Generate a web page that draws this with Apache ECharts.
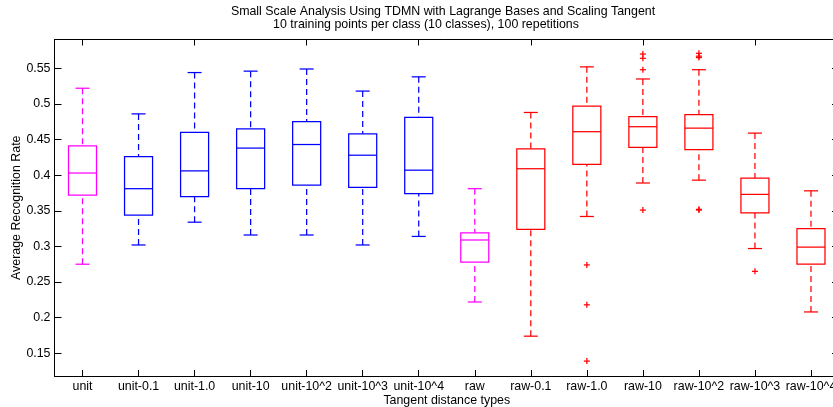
<!DOCTYPE html>
<html><head><meta charset="utf-8">
<script src="https://cdn.jsdelivr.net/npm/echarts@6/dist/echarts.min.js"></script>
<style>html,body{margin:0;padding:0;background:#fff}#c{width:833px;height:407px}</style>
</head><body><div id="c"></div>
<script>
const categories = ['unit','unit-0.1','unit-1.0','unit-10','unit-10^2','unit-10^3','unit-10^4','raw','raw-0.1','raw-1.0','raw-10','raw-10^2','raw-10^3','raw-10^4'];
const lowerWhisker = [0.275,0.302,0.334,0.316,0.316,0.302,0.314,0.222,0.174,0.342,0.389,0.393,0.297,0.208];
const q1 =           [0.372,0.344,0.370,0.381,0.386,0.383,0.374,0.278,0.324,0.415,0.439,0.436,0.347,0.275];
const median =       [0.403,0.381,0.406,0.438,0.443,0.428,0.407,0.309,0.409,0.461,0.468,0.466,0.373,0.299];
const q3 =           [0.441,0.426,0.460,0.465,0.475,0.458,0.481,0.319,0.437,0.497,0.482,0.485,0.396,0.325];
const upperWhisker = [0.522,0.486,0.544,0.546,0.549,0.518,0.538,0.381,0.488,0.552,0.535,0.548,0.459,0.378];
const outlierCategory = ['raw-1.0','raw-1.0','raw-1.0','raw-10','raw-10','raw-10','raw-10','raw-10^2','raw-10^2','raw-10^2','raw-10^2','raw-10^2','raw-10^3'];
const outlierValue =    [0.274,0.218,0.139,0.351,0.548,0.564,0.570,0.351,0.352,0.565,0.567,0.571,0.265];
const yTicks = [0.15,0.2,0.25,0.3,0.35,0.4,0.45,0.5,0.55];
const titleLines = ['Small Scale Analysis Using TDMN with Lagrange Bases and Scaling Tangent','10 training points per class (10 classes), 100 repetitions'];
const yName = 'Average Recognition Rate';
const xName = 'Tangent distance types';

function colorOf(i){
  const n = categories[i];
  if (n === 'unit' || n === 'raw') return '#ff00ff';
  if (n.indexOf('unit') === 0) return '#0000ff';
  return '#ff0000';
}

const boxData = categories.map((c,i)=>[i, lowerWhisker[i], q1[i], median[i], q3[i], upperWhisker[i]]);
const outData = outlierCategory.map((c,k)=>[categories.indexOf(c), outlierValue[k]]);

const LW = 1.25;
function renderBox(params, api){
  const i = api.value(0);
  const pL = api.coord([i, api.value(1)]);
  const p1 = api.coord([i, api.value(2)]);
  const pm = api.coord([i, api.value(3)]);
  const p3 = api.coord([i, api.value(4)]);
  const pH = api.coord([i, api.value(5)]);
  const band = api.size([1,0])[0];
  const bw = band*0.5, cw = band*0.25;
  const x = pm[0];
  const col = colorOf(i);
  const solid = () => ({stroke: col, lineWidth: LW, fill: null});
  const dashed = () => ({stroke: col, lineWidth: LW, lineDash: [6,4], fill: null});
  return {type:'group', children:[
    {type:'line', shape:{x1:x, y1:pH[1], x2:x, y2:p3[1]}, style: dashed()},
    {type:'line', shape:{x1:x, y1:pL[1], x2:x, y2:p1[1]}, style: dashed()},
    {type:'line', shape:{x1:x-cw/2, y1:pH[1], x2:x+cw/2, y2:pH[1]}, style: solid()},
    {type:'line', shape:{x1:x-cw/2, y1:pL[1], x2:x+cw/2, y2:pL[1]}, style: solid()},
    {type:'rect', shape:{x:x-bw/2, y:p3[1], width:bw, height:p1[1]-p3[1]}, style:{stroke:col, fill:'none', lineWidth:LW}},
    {type:'line', shape:{x1:x-bw/2, y1:pm[1], x2:x+bw/2, y2:pm[1]}, style: solid()}
  ]};
}
function renderPlus(params, api){
  const i = api.value(0);
  const p = api.coord([i, api.value(1)]);
  const x = p[0], y = p[1], h = 3;
  return {type:'group', children:[
    {type:'line', shape:{x1:x-h, y1:y, x2:x+h, y2:y}, style: {stroke:'#ff0000', lineWidth:LW}},
    {type:'line', shape:{x1:x, y1:y-h, x2:x, y2:y+h}, style: {stroke:'#ff0000', lineWidth:LW}}
  ]};
}

const font = '"Liberation Sans", Arial, Helvetica, sans-serif';
const FS = 12.4;
const chart = echarts.init(document.getElementById('c'), null, {renderer:'canvas'});
const axisLineStyle = {color:'#000', width:1};
chart.setOption({
  animation:false,
  backgroundColor:'#fff',
  textStyle:{fontFamily:font},
  graphic:[
    {type:'text', x:443, y:11.5, style:{text:titleLines[0], font:FS+'px '+font, fill:'#000', textAlign:'center', textVerticalAlign:'middle'}},
    {type:'text', x:426, y:25, style:{text:titleLines[1], font:FS+'px '+font, fill:'#000', textAlign:'center', textVerticalAlign:'middle'}}
  ],
  grid:{left:54.5, right:-6, top:39.5, bottom:31, containLabel:false, outerBoundsMode:'none'},
  xAxis:[
    {type:'category', data:categories, position:'bottom',
     axisLine:{show:true, lineStyle:axisLineStyle},
     axisTick:{show:true, inside:true, length:6, alignWithLabel:true, lineStyle:{color:'#000'}},
     axisLabel:{show:true, interval:0, color:'#000', fontSize:FS, margin:4.5, fontFamily:font, hideOverlap:false},
     name:xName, nameLocation:'middle', nameGap:18.5, nameMoveOverlap:false, nameTextStyle:{color:'#000', fontSize:FS, fontFamily:font},
     splitLine:{show:false}},
    {type:'category', data:categories, position:'top',
     axisLine:{show:true, lineStyle:axisLineStyle},
     axisTick:{show:true, inside:true, length:6, alignWithLabel:true, lineStyle:{color:'#000'}},
     axisLabel:{show:false}, splitLine:{show:false}}
  ],
  yAxis:[
    {type:'value', min:0.1181, max:0.5904, position:'left',
     axisLine:{show:true, lineStyle:axisLineStyle},
     axisTick:{show:true, inside:true, length:7, customValues:yTicks, lineStyle:{color:'#000'}},
     axisLabel:{show:true, customValues:yTicks, color:'#000', fontSize:FS, margin:4, fontFamily:font, formatter:v=>String(+v.toFixed(2))},
     splitLine:{show:false},
     name:yName, nameLocation:'middle', nameGap:31.5, nameMoveOverlap:false, nameRotate:90, nameTextStyle:{color:'#000', fontSize:FS, fontFamily:font}},
    {type:'value', min:0.1181, max:0.5904, position:'right',
     axisLine:{show:true, lineStyle:axisLineStyle},
     axisTick:{show:true, inside:true, length:7, customValues:yTicks, lineStyle:{color:'#000'}},
     axisLabel:{show:false}, splitLine:{show:false}}
  ],
  series:[
    {type:'custom', xAxisIndex:0, yAxisIndex:0, data:boxData, renderItem:renderBox, encode:{x:0, y:[1,2,3,4,5]}, silent:true},
    {type:'custom', xAxisIndex:0, yAxisIndex:0, data:outData, renderItem:renderPlus, encode:{x:0, y:1}, silent:true}
  ]
});
</script></body></html>
